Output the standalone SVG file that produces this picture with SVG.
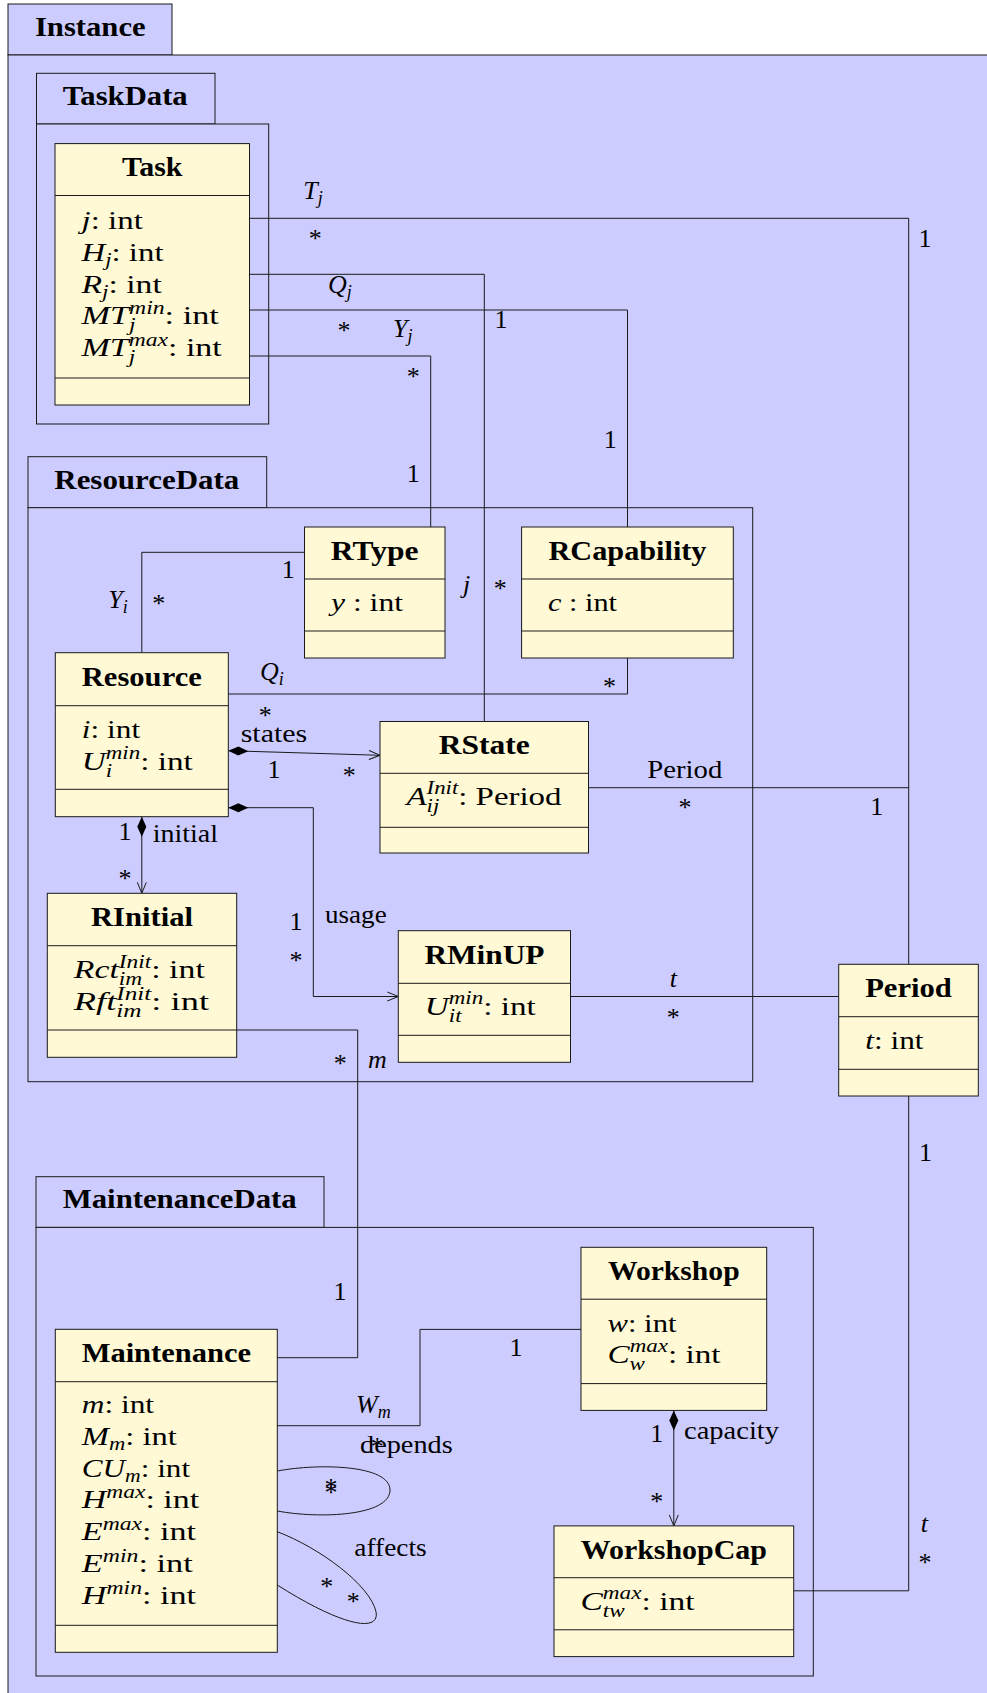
<svg xmlns="http://www.w3.org/2000/svg" width="987" height="1693" viewBox="0 0 987 1693">
<style>
.pk{fill:#CCCCFF;stroke:#1a1a1a;stroke-width:1}
.cl{fill:#FFF9D6;stroke:#1a1a1a;stroke-width:1}
.dv{stroke:#1a1a1a;stroke-width:1}
.cn{fill:none;stroke:#1a1a1a;stroke-width:1}
text{font-family:"Liberation Serif","DejaVu Serif",serif;font-size:26px;fill:#000}
.t{font-weight:bold;font-size:27px;text-anchor:middle}
.i{font-style:italic}
.s{font-size:18px}
.m{text-anchor:middle}
</style>
<defs>
<marker id="arr" viewBox="-13 -6 14 12" refX="0" refY="0" markerWidth="14" markerHeight="12" orient="auto" markerUnits="userSpaceOnUse">
<path d="M-11,-4.5 L0,0 L-11,4.5" fill="none" stroke="#1a1a1a" stroke-width="1"/>
</marker>
<marker id="dia" viewBox="-1 -6 22 12" refX="0" refY="0" markerWidth="22" markerHeight="12" orient="auto" markerUnits="userSpaceOnUse">
<path d="M0,0 L10,-4.5 L20,0 L10,4.5 Z" fill="#000"/>
</marker>
</defs>

<g id="pkg-instance">
<rect class="pk" x="8" y="4" width="164" height="51"/>
<rect class="pk" x="8" y="55" width="1000" height="1700"/>
<text class="t" x="90.3" y="36" textLength="110.7" lengthAdjust="spacingAndGlyphs">Instance</text>
</g>
<g id="pkg-taskdata">
<rect class="pk" x="36.5" y="73.3" width="178.5" height="50.7"/>
<rect class="pk" x="36.5" y="124" width="232.2" height="300"/>
<text class="t" x="125.2" y="105" textLength="125" lengthAdjust="spacingAndGlyphs">TaskData</text>
</g>
<g id="pkg-resourcedata">
<rect class="pk" x="28" y="456.7" width="238.7" height="51"/>
<rect class="pk" x="28" y="507.7" width="724.7" height="574"/>
<text class="t" x="146.8" y="488.6" textLength="185" lengthAdjust="spacingAndGlyphs">ResourceData</text>
</g>
<g id="pkg-maintenancedata">
<rect class="pk" x="36" y="1176.7" width="288" height="50.7"/>
<rect class="pk" x="36" y="1227.4" width="777.3" height="448.6"/>
<text class="t" x="179.7" y="1208.4" textLength="234" lengthAdjust="spacingAndGlyphs">MaintenanceData</text>
</g>

<g id="connectors">
<path class="cn" d="M249.5,218.3 H908.7 V964.3"/>
<path class="cn" d="M249.5,274.3 H484.3 V721.5"/>
<path class="cn" d="M249.5,310 H627.5 V527"/>
<path class="cn" d="M249.5,356 H430.7 V527"/>
<path class="cn" d="M141.8,652.7 V552.3 H304.5"/>
<path class="cn" d="M228.3,694 H627.5 V658"/>
<path class="cn" d="M228.3,750.7 L380,755.3" marker-start="url(#dia)" marker-end="url(#arr)"/>
<path class="cn" d="M141.8,816.7 V893.3" marker-start="url(#dia)" marker-end="url(#arr)"/>
<path class="cn" d="M228.3,807.7 H313.3 V996.5 H398.3" marker-start="url(#dia)" marker-end="url(#arr)"/>
<path class="cn" d="M588.5,787.7 H908.7"/>
<path class="cn" d="M570.5,996.5 H838.7"/>
<path class="cn" d="M236.7,1030 H357.7 V1357.7 H277.3"/>
<path class="cn" d="M277.3,1425.7 H420 V1329.4 H581"/>
<path class="cn" d="M277.3,1471 C320,1463 390,1465 390,1490 C390,1516 320,1519 277.3,1511"/>
<path class="cn" d="M277.3,1531.7 C320,1548 370,1585 376,1611.7 C380,1632 345,1628 277.3,1585"/>
<path class="cn" d="M673.8,1410.4 V1525.9" marker-start="url(#dia)" marker-end="url(#arr)"/>
<path class="cn" d="M793.7,1590.8 H908.7 V1096"/>

<text class="i" x="303.3" y="199">T<tspan class="s" dy="5">j</tspan></text>
<text class="m" x="315.3" y="247">*</text>
<text class="m" x="925" y="246.7">1</text>
<text class="i" x="328" y="293.3">Q<tspan class="s" dy="5">j</tspan></text>
<text class="m" x="344" y="338.7">*</text>
<text class="i" x="393" y="337.3">Y<tspan class="s" dy="5">j</tspan></text>
<text class="m" x="413.3" y="384.7">*</text>
<text class="m" x="501" y="327.5">1</text>
<text class="m" x="610.2" y="448.3">1</text>
<text class="m" x="413.3" y="481.7">1</text>
<text class="i m" x="466.7" y="593">j</text>
<text class="m" x="500.3" y="597">*</text>
<text class="i" x="108.3" y="608.3">Y<tspan class="s" dy="5">i</tspan></text>
<text class="m" x="158.7" y="612">*</text>
<text class="m" x="288.3" y="578.3">1</text>
<text class="i" x="260" y="680">Q<tspan class="s" dy="5">i</tspan></text>
<text class="m" x="265.3" y="723.7">*</text>
<text class="m" x="609.5" y="694.6">*</text>
<text x="240.7" y="741.7" textLength="66.6" lengthAdjust="spacingAndGlyphs">states</text>
<text class="m" x="274" y="778.3">1</text>
<text class="m" x="349.3" y="783.7">*</text>
<text class="m" x="125" y="840">1</text>
<text x="152.7" y="841.7" textLength="65.3" lengthAdjust="spacingAndGlyphs">initial</text>
<text class="m" x="125" y="887">*</text>
<text class="m" x="296" y="930">1</text>
<text x="325" y="923.3" textLength="61.7" lengthAdjust="spacingAndGlyphs">usage</text>
<text class="m" x="296" y="968.7">*</text>
<text x="647.3" y="778.3" textLength="75" lengthAdjust="spacingAndGlyphs">Period</text>
<text class="m" x="685" y="816">*</text>
<text class="m" x="876.7" y="815">1</text>
<text class="i m" x="673.3" y="986.7">t</text>
<text class="m" x="673.3" y="1026">*</text>
<text class="m" x="340.3" y="1072">*</text>
<text class="i" x="368" y="1068">m</text>
<text class="m" x="340" y="1300">1</text>
<text class="i" x="356" y="1413">W<tspan class="s" dy="5">m</tspan></text>
<text class="m" x="377.3" y="1454.7">*</text>
<text class="m" x="516" y="1356">1</text>
<text x="360" y="1453.3" textLength="92.7" lengthAdjust="spacingAndGlyphs">depends</text>
<text class="m" x="331" y="1496">*</text>
<text class="m" x="331" y="1501">*</text>
<text x="354.3" y="1556" textLength="72.4" lengthAdjust="spacingAndGlyphs">affects</text>
<text class="m" x="326.7" y="1594.7">*</text>
<text class="m" x="353.3" y="1610.3">*</text>
<text class="m" x="656.7" y="1442">1</text>
<text x="684" y="1439" textLength="95" lengthAdjust="spacingAndGlyphs">capacity</text>
<text class="m" x="656.7" y="1510">*</text>
<text class="m" x="925.5" y="1161">1</text>
<text class="i m" x="924.4" y="1532">t</text>
<text class="m" x="925" y="1570.6">*</text>
</g>

<g id="task">
<rect class="cl" x="55" y="143.6" width="194.5" height="261.4"/>
<line class="dv" x1="55" y1="195.5" x2="249.5" y2="195.5"/>
<line class="dv" x1="55" y1="378" x2="249.5" y2="378"/>
<text class="t" x="152.3" y="176.2" textLength="60.4" lengthAdjust="spacingAndGlyphs">Task</text>
<text x="81.5" y="229" textLength="61.3" lengthAdjust="spacingAndGlyphs"><tspan class="i">j</tspan>: int</text>
<text x="81.5" y="260.8" textLength="82" lengthAdjust="spacingAndGlyphs"><tspan class="i">H</tspan><tspan class="i s" dy="5">j</tspan><tspan dy="-5">: int</tspan></text>
<text x="81.5" y="292.5" textLength="80.3" lengthAdjust="spacingAndGlyphs"><tspan class="i">R</tspan><tspan class="i s" dy="5">j</tspan><tspan dy="-5">: int</tspan></text>
<text x="81.5" y="324.2" textLength="137.3" lengthAdjust="spacingAndGlyphs"><tspan class="i">MT</tspan><tspan class="i s" dy="7">j</tspan><tspan class="i s" dx="-5" dy="-17">min</tspan><tspan dy="10">: int</tspan></text>
<text x="81.5" y="356" textLength="140.3" lengthAdjust="spacingAndGlyphs"><tspan class="i">MT</tspan><tspan class="i s" dy="7">j</tspan><tspan class="i s" dx="-5" dy="-17">max</tspan><tspan dy="10">: int</tspan></text>
</g>

<g id="rtype">
<rect class="cl" x="304.5" y="527" width="140.5" height="131"/>
<line class="dv" x1="304.5" y1="579" x2="445" y2="579"/>
<line class="dv" x1="304.5" y1="631" x2="445" y2="631"/>
<text class="t" x="374.7" y="559.6" textLength="87.7" lengthAdjust="spacingAndGlyphs">RType</text>
<text x="331" y="611" textLength="72" lengthAdjust="spacingAndGlyphs"><tspan class="i">y</tspan> : int</text>
</g>

<g id="rcapability">
<rect class="cl" x="521.6" y="527" width="211.7" height="131"/>
<line class="dv" x1="521.6" y1="579" x2="733.3" y2="579"/>
<line class="dv" x1="521.6" y1="631" x2="733.3" y2="631"/>
<text class="t" x="627.5" y="559.6" textLength="158" lengthAdjust="spacingAndGlyphs">RCapability</text>
<text x="548" y="611" textLength="69" lengthAdjust="spacingAndGlyphs"><tspan class="i">c</tspan> : int</text>
</g>

<g id="resource">
<rect class="cl" x="55.3" y="652.7" width="173" height="164"/>
<line class="dv" x1="55.3" y1="705.7" x2="228.3" y2="705.7"/>
<line class="dv" x1="55.3" y1="789.3" x2="228.3" y2="789.3"/>
<text class="t" x="141.8" y="685.6" textLength="120" lengthAdjust="spacingAndGlyphs">Resource</text>
<text x="81.8" y="737.7" textLength="58.3" lengthAdjust="spacingAndGlyphs"><tspan class="i">i</tspan>: int</text>
<text x="81.8" y="770" textLength="111" lengthAdjust="spacingAndGlyphs"><tspan class="i">U</tspan><tspan class="i s" dy="7">i</tspan><tspan class="i s" dx="-5" dy="-18">min</tspan><tspan dy="11">: int</tspan></text>
</g>

<g id="rstate">
<rect class="cl" x="380" y="721.5" width="208.5" height="131.5"/>
<line class="dv" x1="380" y1="773.3" x2="588.5" y2="773.3"/>
<line class="dv" x1="380" y1="827.3" x2="588.5" y2="827.3"/>
<text class="t" x="484.3" y="754.3" textLength="91" lengthAdjust="spacingAndGlyphs">RState</text>
<text x="406.5" y="805.3" textLength="155" lengthAdjust="spacingAndGlyphs"><tspan class="i">A</tspan><tspan class="i s" dy="7">ij</tspan><tspan class="i s" dx="-10" dy="-18">Init</tspan><tspan dy="11">: Period</tspan></text>
</g>

<g id="rinitial">
<rect class="cl" x="47.3" y="893.3" width="189.4" height="164"/>
<line class="dv" x1="47.3" y1="945.7" x2="236.7" y2="945.7"/>
<line class="dv" x1="47.3" y1="1030" x2="236.7" y2="1030"/>
<text class="t" x="142" y="926" textLength="102" lengthAdjust="spacingAndGlyphs">RInitial</text>
<text x="73.8" y="978.3" textLength="131" lengthAdjust="spacingAndGlyphs"><tspan class="i">Rct</tspan><tspan class="i s" dy="7">im</tspan><tspan class="i s" dx="-18" dy="-17">Init</tspan><tspan dy="10">: int</tspan></text>
<text x="73.8" y="1010" textLength="135.3" lengthAdjust="spacingAndGlyphs"><tspan class="i">Rft</tspan><tspan class="i s" dy="7">im</tspan><tspan class="i s" dx="-18" dy="-17">Init</tspan><tspan dy="10">: int</tspan></text>
</g>

<g id="rminup">
<rect class="cl" x="398.3" y="930.7" width="172.2" height="131.6"/>
<line class="dv" x1="398.3" y1="983.3" x2="570.5" y2="983.3"/>
<line class="dv" x1="398.3" y1="1035.3" x2="570.5" y2="1035.3"/>
<text class="t" x="484.4" y="963.6" textLength="120" lengthAdjust="spacingAndGlyphs">RMinUP</text>
<text x="424.8" y="1015.3" textLength="111" lengthAdjust="spacingAndGlyphs"><tspan class="i">U</tspan><tspan class="i s" dy="7">it</tspan><tspan class="i s" dx="-10" dy="-18">min</tspan><tspan dy="11">: int</tspan></text>
</g>

<g id="period">
<rect class="cl" x="838.7" y="964.3" width="139.6" height="131.7"/>
<line class="dv" x1="838.7" y1="1016.7" x2="978.3" y2="1016.7"/>
<line class="dv" x1="838.7" y1="1069.3" x2="978.3" y2="1069.3"/>
<text class="t" x="908.5" y="996.8" textLength="86.7" lengthAdjust="spacingAndGlyphs">Period</text>
<text x="865.2" y="1049.3" textLength="58.3" lengthAdjust="spacingAndGlyphs"><tspan class="i">t</tspan>: int</text>
</g>

<g id="maintenance">
<rect class="cl" x="55.3" y="1329.3" width="222" height="323"/>
<line class="dv" x1="55.3" y1="1381.7" x2="277.3" y2="1381.7"/>
<line class="dv" x1="55.3" y1="1625.3" x2="277.3" y2="1625.3"/>
<text class="t" x="166.3" y="1361.8" textLength="169.3" lengthAdjust="spacingAndGlyphs">Maintenance</text>
<text x="81.8" y="1413.3" textLength="72.3" lengthAdjust="spacingAndGlyphs"><tspan class="i">m</tspan>: int</text>
<text x="81.8" y="1445" textLength="95" lengthAdjust="spacingAndGlyphs"><tspan class="i">M</tspan><tspan class="i s" dy="5">m</tspan><tspan dy="-5">: int</tspan></text>
<text x="81.8" y="1476.7" textLength="108.3" lengthAdjust="spacingAndGlyphs"><tspan class="i">CU</tspan><tspan class="i s" dy="5">m</tspan><tspan dy="-5">: int</tspan></text>
<text x="81.8" y="1508.4" textLength="117.3" lengthAdjust="spacingAndGlyphs"><tspan class="i">H</tspan><tspan class="i s" dy="-10">max</tspan><tspan dy="10">: int</tspan></text>
<text x="81.8" y="1540.1" textLength="114.3" lengthAdjust="spacingAndGlyphs"><tspan class="i">E</tspan><tspan class="i s" dy="-10">max</tspan><tspan dy="10">: int</tspan></text>
<text x="81.8" y="1571.8" textLength="111" lengthAdjust="spacingAndGlyphs"><tspan class="i">E</tspan><tspan class="i s" dy="-10">min</tspan><tspan dy="10">: int</tspan></text>
<text x="81.8" y="1603.5" textLength="114.3" lengthAdjust="spacingAndGlyphs"><tspan class="i">H</tspan><tspan class="i s" dy="-10">min</tspan><tspan dy="10">: int</tspan></text>
</g>

<g id="workshop">
<rect class="cl" x="581" y="1247.3" width="185.7" height="163.1"/>
<line class="dv" x1="581" y1="1299.2" x2="766.7" y2="1299.2"/>
<line class="dv" x1="581" y1="1383.6" x2="766.7" y2="1383.6"/>
<text class="t" x="673.8" y="1279.9" textLength="131.7" lengthAdjust="spacingAndGlyphs">Workshop</text>
<text x="607.5" y="1331.7" textLength="69" lengthAdjust="spacingAndGlyphs"><tspan class="i">w</tspan>: int</text>
<text x="607.5" y="1363.2" textLength="113" lengthAdjust="spacingAndGlyphs"><tspan class="i">C</tspan><tspan class="i s" dy="7">w</tspan><tspan class="i s" dx="-12" dy="-18">max</tspan><tspan dy="11">: int</tspan></text>
</g>

<g id="workshopcap">
<rect class="cl" x="554" y="1525.9" width="239.7" height="130.7"/>
<line class="dv" x1="554" y1="1577.7" x2="793.7" y2="1577.7"/>
<line class="dv" x1="554" y1="1629.8" x2="793.7" y2="1629.8"/>
<text class="t" x="673.8" y="1558.6" textLength="186.3" lengthAdjust="spacingAndGlyphs">WorkshopCap</text>
<text x="580.5" y="1609.5" textLength="114" lengthAdjust="spacingAndGlyphs"><tspan class="i">C</tspan><tspan class="i s" dy="7">tw</tspan><tspan class="i s" dx="-17" dy="-18">max</tspan><tspan dy="11">: int</tspan></text>
</g>
</svg>
